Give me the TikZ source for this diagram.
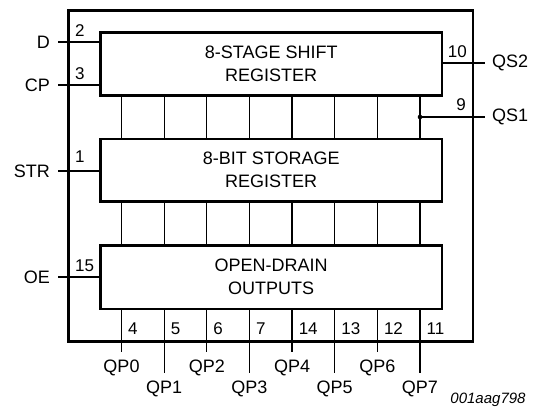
\documentclass[tikz,border=0pt]{standalone}
\usepackage{fontspec}
\setmainfont{Liberation Sans}
\usetikzlibrary{positioning}

\tikzset{
  block/.style={draw, line width=2.6pt, minimum width=341.7pt, minimum height=62.6pt,
    align=center, font=\fontsize{18}{23}\selectfont},
  pinlab/.style={inner sep=0pt, font=\fontsize{18}{22}\selectfont},
  pinnum/.style={inner sep=0pt, font=\fontsize{17}{20}\selectfont},
  wire/.style={line width=1.2pt},
}

\begin{document}
\begin{tikzpicture}[x=1pt, y=-1pt]
\useasboundingbox (0,0) rectangle (536,409);
% Chip outline
\node[draw, line width=2.8pt, minimum width=404.2pt, minimum height=330.6pt, inner sep=0pt] (chip) at (270.9,176) {};
% Blocks
\node[block] (shift) at (271.2,64) {8-STAGE SHIFT\\REGISTER};
\node[block] (store) at (271.2,170.2) {8-BIT STORAGE\\REGISTER};
\node[block, minimum height=63.7pt] (outs) at (271.2,277.2) {OPEN-DRAIN\\OUTPUTS};
% Inputs
\coordinate (d) at (58,42);
\coordinate (cp) at (58,85);
\coordinate (str) at (58,171);
\coordinate (oe) at (58,277);
\node[pinlab, left=8pt of d] (dlab) {D};
\node[pinlab, left=8pt of cp] (cplab) {CP};
\node[pinlab, left=8pt of str] (strlab) {STR};
\node[pinlab, left=8pt of oe] (oelab) {OE};
\draw[wire] (d) -- (d -| shift.west);
\draw[wire] (cp) -- (cp -| shift.west);
\draw[wire] (str) -- (str -| store.west);
\draw[wire] (oe) -- (oe -| outs.west);
\node[pinnum, anchor=south west] (n2) at (75,37) {2};
\node[pinnum, anchor=south west] (n3) at (75,80) {3};
\node[pinnum, anchor=south west] (n1) at (75,163) {1};
\node[pinnum, anchor=south west] (n15) at (75,272) {15};
% Serial outputs
\coordinate (qs2) at (485,63);
\coordinate (qs1) at (485,117);
\coordinate (tap) at (420,117);
\draw[wire] (qs2 -| shift.east) -- (qs2);
\draw[wire] (tap) -- (qs1);
\fill (tap) circle (2.3pt);
\node[pinlab, right=7pt of qs2] (qs2lab) {QS2};
\node[pinlab, right=7pt of qs1] (qs1lab) {QS1};
\node[pinnum, anchor=south east] (n10) at (467,58) {10};
\node[pinnum, anchor=south east] (n9) at (466,111) {9};
% Register links
\foreach \i in {0,...,7} {
  \coordinate (c\i) at ({121.5+42.64*\i},0);
  \draw[wire] (shift.south -| c\i) -- (store.north -| c\i);
  \draw[wire] (store.south -| c\i) -- (outs.north -| c\i);
}
% Parallel outputs
\foreach \i/\pin/\yend in {0/4/352, 1/5/373, 2/6/352, 3/7/373, 4/14/352, 5/13/373, 6/12/352, 7/11/373} {
  \coordinate (q\i) at ({121.5+42.64*\i},\yend);
  \draw[wire] (outs.south -| q\i) -- (q\i);
  \node[pinlab, below=8pt of q\i] (qp\i) {QP\i};
  \node[pinnum, anchor=south west] (p\i) at ({128+42.64*\i},335) {\pin};
}
\node[font=\fontsize{15}{18}\selectfont\itshape] (tag) at (488,400) {001aag798};
\end{tikzpicture}
\end{document}
